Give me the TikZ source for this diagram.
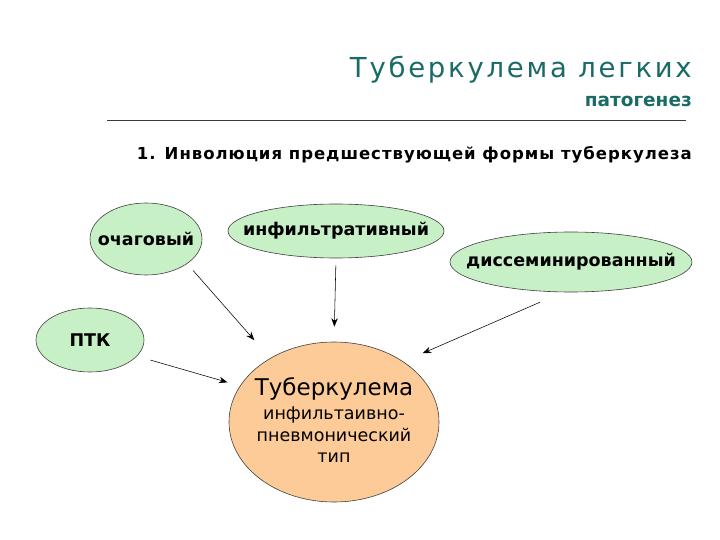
\documentclass[tikz,border=0pt]{standalone}
\usepackage{fontspec}
\setmainfont{DejaVu Sans}
\newfontfamily\titlefont[LetterSpace=10]{DejaVu Sans}
\newfontfamily\stagefont[LetterSpace=6]{DejaVu Sans}
\usetikzlibrary{arrows.meta,shapes.geometric}
\definecolor{tbteal}{HTML}{1A6B66}
\definecolor{tbgreen}{HTML}{C8F0C6}
\definecolor{tbpeach}{HTML}{FCCB98}
\definecolor{tbrule}{HTML}{3A3A3A}

\begin{document}
\begin{tikzpicture}[
  x=1pt, y=-1pt,
  form/.style={ellipse, draw=black!75, line width=0.6pt, fill=tbgreen, inner sep=0pt},
  formtxt/.style={font=\bfseries\fontsize{17.5}{20}\selectfont, inner sep=0pt},
  core/.style={ellipse, draw=black!75, line width=0.6pt, fill=tbpeach, inner sep=0pt,
               minimum width=210pt, minimum height=160pt},
  coretxt/.style={align=center, inner sep=0pt, font=\fontsize{17.5}{21.5}\selectfont},
  feed/.style={-{Stealth[length=8.5pt, width=6.5pt]}, line width=0.55pt, black},
  heading/.style={anchor=base east, inner sep=0pt},
]
\useasboundingbox (0,0) rectangle (720,540);

% ---------------- heading ------------------------------------------
\node[heading, text=tbteal, font=\titlefont\fontsize{27.5}{30}\selectfont] (title) at (692,78)
  {Туберкулема легких};
\node[heading, text=tbteal, font=\bfseries\fontsize{18.5}{20}\selectfont] (subtitle) at (692,107)
  {патогенез};
\draw[tbrule, line width=0.8pt] (107,120) -- (686,120);
\node[heading, font=\stagefont\bfseries\fontsize{16.5}{18}\selectfont] (stage) at (692,160)
  {1. Инволюция предшествующей формы туберкулеза};

% ---------------- preceding forms ----------------------------------
\node[form, minimum width=112pt, minimum height=72pt,
      label={[formtxt]center:очаговый}] (ochag) at (146,239) {};
\node[form, minimum width=216pt, minimum height=54pt,
      label={[formtxt]center:инфильтративный}] (infil) at (336,231) {};
\node[form, minimum width=242pt, minimum height=60pt,
      label={[formtxt]center:диссеминированный}] (diss) at (571,262) {};
\node[form, minimum width=108pt, minimum height=64pt,
      label={[formtxt]center:ПТК}] (ptk) at (90,340) {};

% ---------------- tuberculoma --------------------------------------
\node[core, label={[coretxt, yshift=2pt]center:{{\fontsize{23}{26}\selectfont Туберкулема}\\[3pt]
      инфильтаивно-\\ пневмонический\\ тип}}] (tub) at (334,422) {};

% ---------------- links --------------------------------------------
\draw[feed, shorten <=9pt, shorten >=24pt] (ochag.-31) -- (tub.135);
\draw[feed, shorten <=7pt, shorten >=15pt] (infil.south) -- (tub.north);
\draw[feed, shorten <=25pt, shorten >=21pt] (diss.255) -- (tub.41.5);
\draw[feed, shorten <=14pt, shorten >=13pt] (ptk.-19) -- (tub.159);

\end{tikzpicture}
\end{document}
